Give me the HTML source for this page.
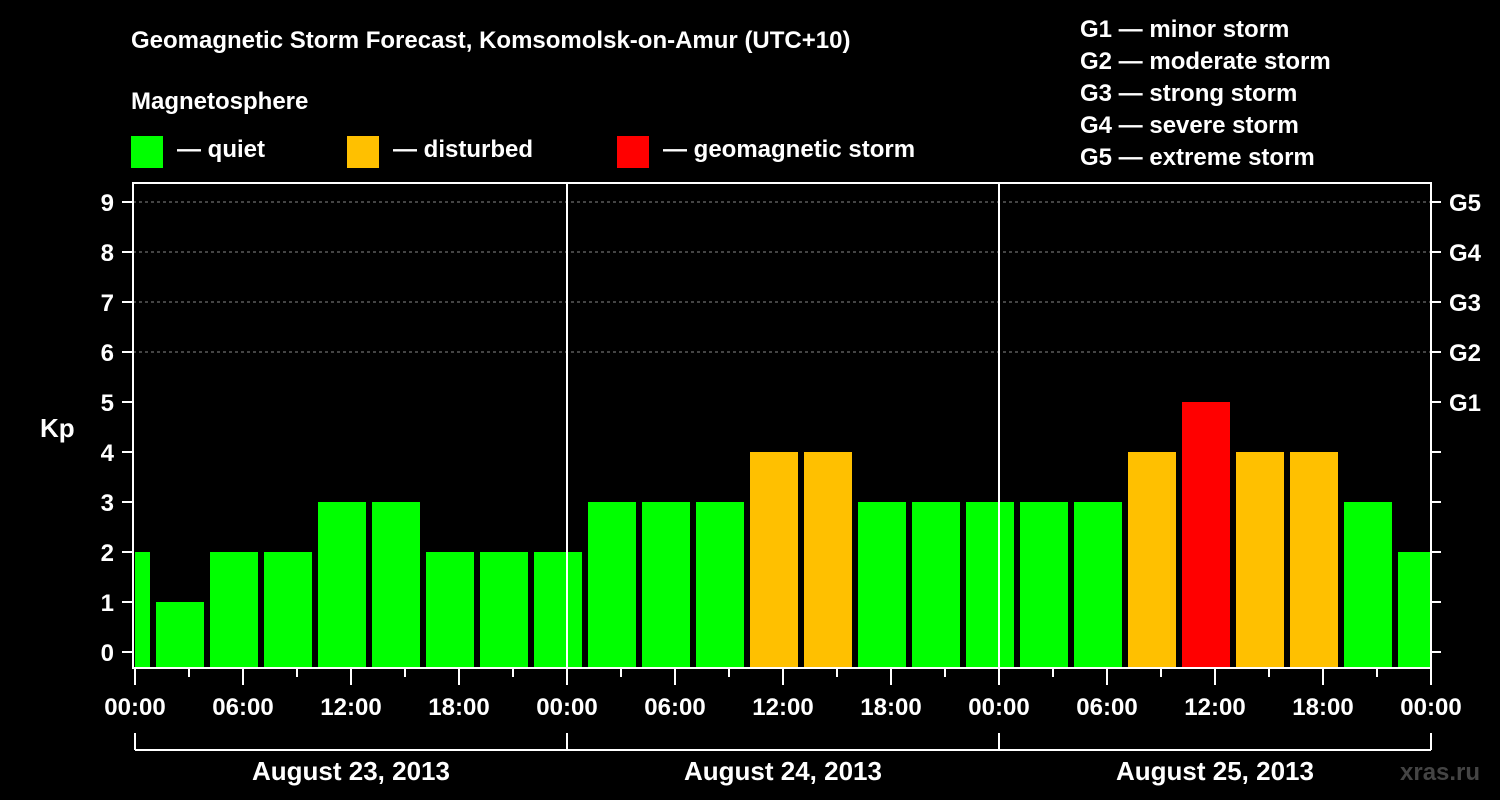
<!DOCTYPE html>
<html><head><meta charset="utf-8"><style>
html,body{margin:0;padding:0;background:#000;}
svg{display:block;font-family:"Liberation Sans",Arial,sans-serif;font-weight:bold;}
</style></head><body>
<svg id="chart" width="1500" height="800" viewBox="0 0 1500 800">
<rect width="1500" height="800" fill="#000"/>
<text x="131" y="48" fill="#fff" font-size="24">Geomagnetic Storm Forecast, Komsomolsk-on-Amur (UTC+10)</text>
<text x="131" y="109" fill="#fff" font-size="24">Magnetosphere</text>
<g>
<rect x="131" y="136" width="32" height="32" fill="#00ff00"/>
<text x="177" y="157" fill="#fff" font-size="24">— quiet</text>
<rect x="347" y="136" width="32" height="32" fill="#ffc000"/>
<text x="393" y="157" fill="#fff" font-size="24">— disturbed</text>
<rect x="617" y="136" width="32" height="32" fill="#ff0000"/>
<text x="663" y="157" fill="#fff" font-size="24">— geomagnetic storm</text>
</g>
<g fill="#fff" font-size="24">
<text x="1080" y="37">G1 — minor storm</text>
<text x="1080" y="69">G2 — moderate storm</text>
<text x="1080" y="101">G3 — strong storm</text>
<text x="1080" y="133">G4 — severe storm</text>
<text x="1080" y="165">G5 — extreme storm</text>
</g>
<text x="40" y="437" fill="#fff" font-size="26">Kp</text>
<text x="1400" y="780" fill="#444" font-size="24">xras.ru</text>
<g id="plot"></g>
</svg>
<script>
const kpValues = [2,1,2,2,3,3,2,2,2,3,3,3,4,4,3,3,3,3,3,4,5,4,4,3,2];
const barStartHours = [-2,1,4,7,10,13,16,19,22,25,28,31,34,37,40,43,46,49,52,55,58,61,64,67,70];
const timeLabels = ["00:00","06:00","12:00","18:00","00:00","06:00","12:00","18:00","00:00","06:00","12:00","18:00","00:00"];
const dayLabels = ["August 23, 2013","August 24, 2013","August 25, 2013"];
const kpTicks = [0,1,2,3,4,5,6,7,8,9];
const gLabels = ["G1","G2","G3","G4","G5"];

const NS="http://www.w3.org/2000/svg";
const L=133, R=1431, T=183, B=668, X0=135, PXH=18;
const xs=h=>X0+h*PXH;
const ys=k=>652-k*50;
const plot=document.getElementById('plot');
function mk(tag,attrs,parent){const e=document.createElementNS(NS,tag);for(const k in attrs)e.setAttribute(k,attrs[k]);(parent||plot).appendChild(e);return e;}

// grid
for(let k=6;k<=9;k++){
  const g=mk('line',{x1:L,x2:R,y1:ys(k),y2:ys(k),stroke:'#888','stroke-dasharray':'3,3','stroke-width':1});
  
  
}
// bars
kpValues.forEach((v,i)=>{
  const h=barStartHours[i];
  let x1=Math.max(xs(h)+3,X0), x2=Math.min(xs(h+3)-3,R-1);
  const c=v>=5?'#ff0000':(v>=4?'#ffc000':'#00ff00');
  const r=mk('rect',{x:x1,y:ys(v),width:x2-x1,height:B-ys(v),fill:c});
  
  
});
// day separators
[24,48].forEach(h=>{
  const l=mk('line',{x1:xs(h),x2:xs(h),y1:T,y2:B,stroke:'#fff','stroke-width':2});
  
  
});
// frame
const fr=mk('rect',{x:L,y:T,width:R-L,height:B-T,fill:'none',stroke:'#fff','stroke-width':2});


// y ticks
kpTicks.forEach(k=>{
  mk('line',{x1:122,x2:L,y1:ys(k),y2:ys(k),stroke:'#fff','stroke-width':2});
  mk('line',{x1:R,x2:1441,y1:ys(k),y2:ys(k),stroke:'#fff','stroke-width':2});
  const t=mk('text',{x:114,y:ys(k)+9,fill:'#fff','font-size':24,'text-anchor':'end'});
  t.textContent=k;
  
  
});
gLabels.forEach((g,i)=>{
  const t=mk('text',{x:1449,y:ys(5+i)+9,fill:'#fff','font-size':24});
  t.textContent=g;
  
  
});
// x ticks
for(let h=0;h<=72;h+=3){
  const major=h%6===0;
  mk('line',{x1:xs(h),x2:xs(h),y1:B,y2:B+(major?17:9),stroke:'#fff','stroke-width':2});
}
timeLabels.forEach((s,i)=>{
  const t=mk('text',{x:xs(i*6),y:715,fill:'#fff','font-size':24,'text-anchor':'middle'});
  t.textContent=s;
  
  
});
// day bracket
mk('line',{x1:xs(0),x2:xs(72),y1:750,y2:750,stroke:'#fff','stroke-width':2});
[0,24,48,72].forEach(h=>mk('line',{x1:xs(h),x2:xs(h),y1:733,y2:750,stroke:'#fff','stroke-width':2}));
dayLabels.forEach((s,i)=>{
  const t=mk('text',{x:xs(i*24+12),y:780,fill:'#fff','font-size':26,'text-anchor':'middle'});
  t.textContent=s;
  
  
});
</script>
</body></html>
